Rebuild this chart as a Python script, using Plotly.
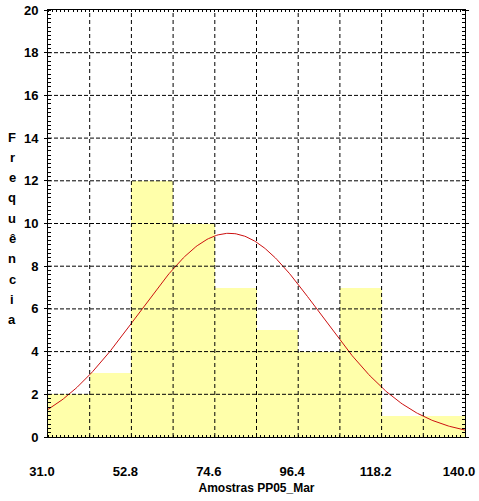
import numpy as np
import plotly.graph_objects as go

# ---- data ----
bin_start = 31.0
bin_width = 10.9
counts = [2, 3, 12, 10, 7, 5, 4, 7, 1, 1]
x_tick_labels = ["31.0", "52.8", "74.6", "96.4", "118.2", "140.0"]
y_ticks = [0, 2, 4, 6, 8, 10, 12, 14, 16, 18, 20]
fit_mean = 78.4
fit_sd = 23.7
x_title = "Amostras PP05_Mar"
y_title = "Frequência"

n_bins = len(counts)
edges = [round(bin_start + k * bin_width, 6) for k in range(n_bins + 1)]
centers = [bin_start + (k + 0.5) * bin_width for k in range(n_bins)]
total = sum(counts)

xc = np.linspace(edges[0], edges[-1], 300)
yc = total * bin_width / (fit_sd * np.sqrt(2 * np.pi)) * np.exp(-((xc - fit_mean) ** 2) / (2 * fit_sd ** 2))

fig = go.Figure()
fig.add_trace(go.Bar(x=centers, y=counts, width=bin_width,
                     marker=dict(color="#FFFFAA", line=dict(width=0)),
                     hoverinfo="skip"))
fig.add_trace(go.Scatter(x=xc, y=yc, mode="lines",
                         line=dict(color="#CC1010", width=1), hoverinfo="skip"))

# grid lines above bars
shapes = []
for e in edges[1:-1]:
    shapes.append(dict(type="line", xref="x", yref="y", x0=e, x1=e, y0=0, y1=20,
                       line=dict(color="black", width=1, dash="4px,3px"), layer="above"))
for yv in y_ticks[1:-1]:
    shapes.append(dict(type="line", xref="x", yref="y", x0=edges[0], x1=edges[-1], y0=yv, y1=yv,
                       line=dict(color="black", width=1, dash="4px,2px"), layer="above"))

font = dict(family="Liberation Sans, Arial, sans-serif", size=12, color="black")
tick_font = dict(family="Liberation Sans, Arial, sans-serif", size=13, color="black")
letter_font = dict(family="Liberation Sans, Arial, sans-serif", size=13, color="black")

annotations = []
letters = list(y_title)
top_px, step_px = 137, 20.3
for i, ch in enumerate(letters):
    ypx = top_px + i * step_px
    annotations.append(dict(text="<b>%s</b>" % ch, xref="paper", yref="paper",
                            x=(12 - 48) / 417, y=1 - (ypx - 10) / 427,
                            showarrow=False, xanchor="center", yanchor="middle",
                            font=letter_font))

label_pos = [edges[k] for k in range(0, n_bins + 1, 2)]

fig.update_layout(
    width=479, height=501,
    margin=dict(l=48, r=14, t=10, b=64),
    paper_bgcolor="white", plot_bgcolor="white",
    showlegend=False, bargap=0,
    font=font,
    shapes=shapes,
    annotations=annotations,
    xaxis=dict(range=[edges[0], edges[-1]], showgrid=False, zeroline=False, automargin=False,
               tickvals=label_pos,
               ticktext=["<b>%s</b>" % t for t in x_tick_labels],
               tickfont=tick_font, ticklabeloverflow="allow", ticklabelshift=-6,
               ticks="", ticklabelstandoff=22,
               showline=True, linecolor="black", linewidth=1, mirror="allticks",
               minor=dict(dtick=bin_width / 10, tick0=bin_start, ticks="inside", ticklen=2,
                          tickcolor="black", showgrid=False),
               title=dict(text="<b>%s</b>" % x_title, standoff=6, font=font)),
    yaxis=dict(range=[0, 20], showgrid=False, zeroline=False, automargin=False,
               tickvals=y_ticks, ticktext=["<b>%d</b>" % v for v in y_ticks],
               tickfont=tick_font,
               ticks="outside", ticklen=3, tickcolor="black", ticklabelstandoff=3,
               showline=True, linecolor="black", linewidth=1, mirror="allticks",
               minor=dict(dtick=0.2, ticks="inside", ticklen=3, tickcolor="black", showgrid=False)),
)

fig.write_html("out.html")
